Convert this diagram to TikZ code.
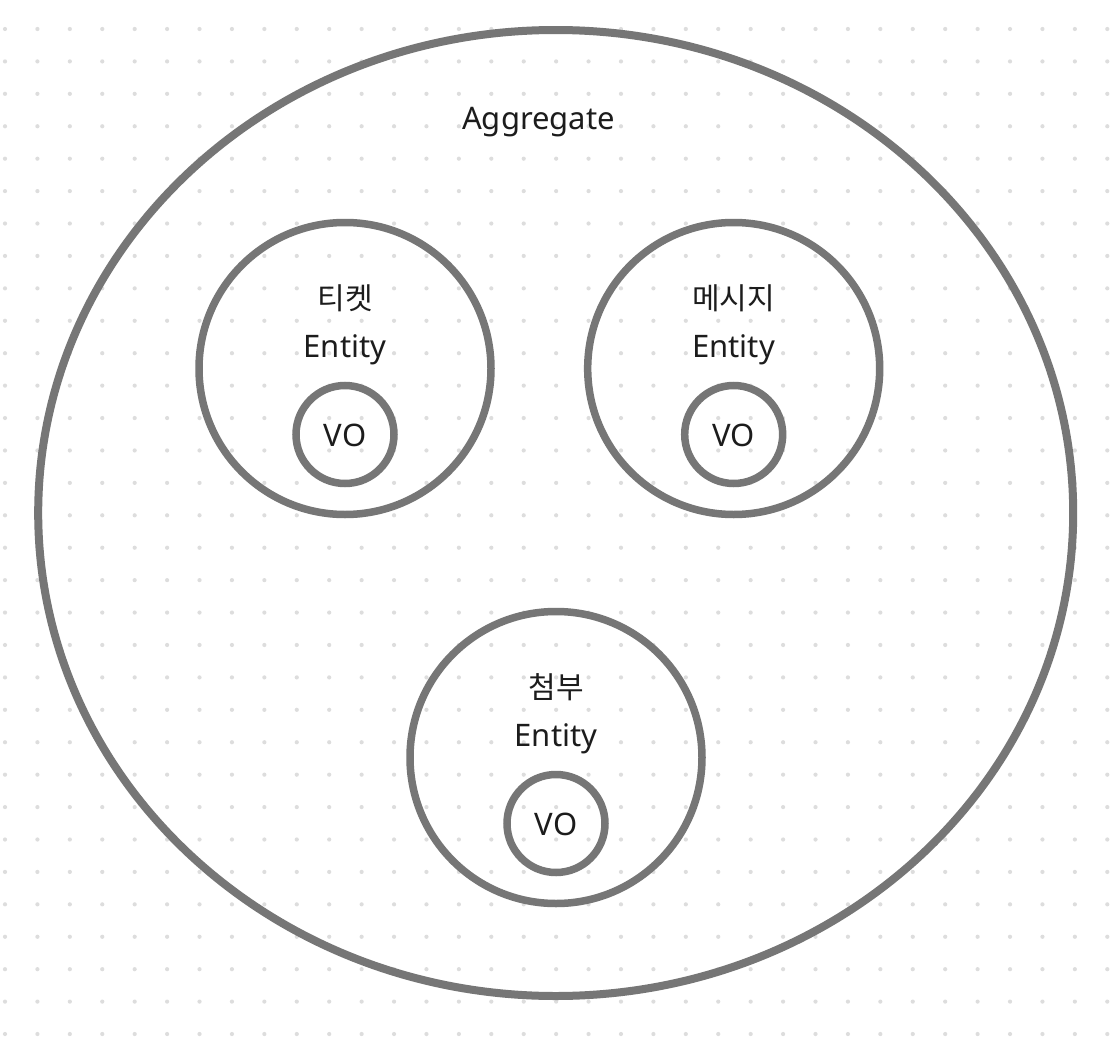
\documentclass[tikz,border=0pt]{standalone}
\usepackage{fontspec}
\setmainfont{Noto Sans}
\newfontfamily\kofont{Noto Sans CJK KR}
\usepackage{xcolor}
\usepackage{tikz}
\usetikzlibrary{positioning, calc, shapes.geometric}
\definecolor{ringgray}{HTML}{767676}
\definecolor{dotgray}{HTML}{DDDDDD}
\definecolor{inkblack}{HTML}{1C1C1C}

\begin{document}
\begin{tikzpicture}[
    x=1pt, y=-1pt,
    % Styles
    aggregate/.style={draw=ringgray, ellipse, line width=8pt,
        minimum width=1035pt, minimum height=966pt, inner sep=0pt},
    entity/.style={draw=ringgray, circle, line width=7.5pt,
        minimum size=292pt, inner sep=0pt},
    vo/.style={draw=ringgray, circle, line width=7.5pt,
        minimum size=98pt, inner sep=0pt},
    lbl/.style={font=\fontsize{31}{36}\selectfont, text=inkblack,
        inner sep=0pt, anchor=base},
    kolbl/.style={lbl, font=\fontsize{30}{36}\selectfont\kofont},
]

\useasboundingbox (0,0) rectangle (1120,1044);
\fill[white] (0,0) rectangle (1120,1044);

% ===== Dot grid =====
\foreach \i in {0,...,34}{
    \foreach \j in {0,...,31}{
        \fill[dotgray] (5+32.42*\i, 29+32.42*\j) circle (2.1pt);
    }
}

% ===== Aggregate =====
\node[aggregate] (agg) at (555.7,513) {};
\node[lbl] (aggname) at (538.5,129) {Aggregate};

% ===== Entities =====
\node[entity] (ticket) at (345,368.5) {};
\node[kolbl] (ticketname) at ($(ticket)+(0,-59)$) {티켓};
\node[lbl] (ticketent) at ($(ticket)+(0,-11.5)$) {Entity};
\node[vo, below=13.25pt of ticket.center] (ticketvo) {};
\node[lbl] at ($(ticketvo)+(0,11.5)$) {VO};

\node[entity] (message) at (733.7,368.5) {};
\node[kolbl] (messagename) at ($(message)+(0,-59)$) {메시지};
\node[lbl] (messageent) at ($(message)+(0,-11.5)$) {Entity};
\node[vo, below=13.25pt of message.center] (messagevo) {};
\node[lbl] at ($(messagevo)+(0,11.5)$) {VO};

\node[entity] (attach) at (556,757.5) {};
\node[kolbl] (attachname) at ($(attach)+(0,-59)$) {첨부};
\node[lbl] (attachent) at ($(attach)+(0,-11.5)$) {Entity};
\node[vo, below=13.25pt of attach.center] (attachvo) {};
\node[lbl] at ($(attachvo)+(0,11.5)$) {VO};

\end{tikzpicture}
\end{document}
